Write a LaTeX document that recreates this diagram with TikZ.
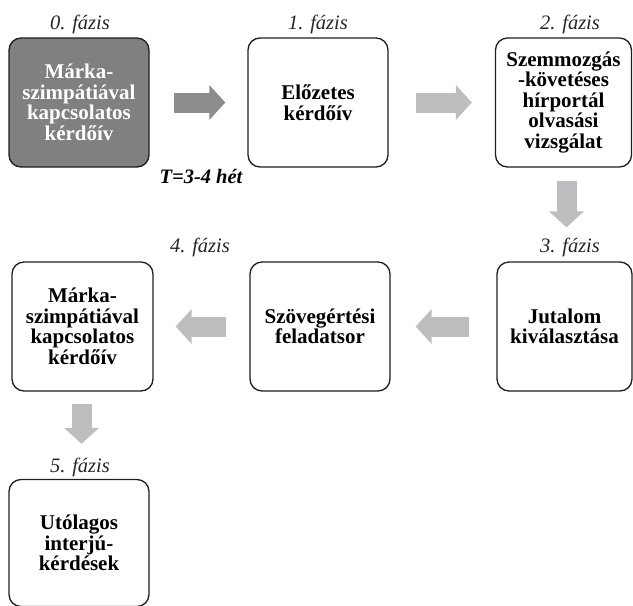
\documentclass[tikz,border=0pt]{standalone}
\usepackage{fontspec}
\setmainfont{Liberation Serif}
\usetikzlibrary{arrows.meta}
\definecolor{boxfill}{RGB}{128,128,128}
\definecolor{arrdark}{RGB}{140,140,140}
\definecolor{arrlight}{RGB}{189,189,191}
\definecolor{edge}{RGB}{30,30,30}
\tikzset{
  phase/.style={draw=edge, line width=1.3pt, rounded corners=12pt, minimum height=129pt,
    align=center, inner sep=0pt, font=\bfseries\fontsize{21}{20.5}\selectfont, text=black},
  phaselabel/.style={anchor=base, inner sep=0pt, font=\itshape\fontsize{20.5}{20}\selectfont, text=black!85},
  blockarrow/.style={line width=20pt, line cap=butt, draw=#1,
    -{Triangle[length=16pt,width=34pt,fill=#1,color=#1]}},
}
\begin{document}
\begin{tikzpicture}[x=1pt,y=1pt]
\useasboundingbox (0,0) rectangle (633,-606);
% boxes
\node[phase, minimum width=140pt, fill=boxfill, text=white] (b0) at (79,-102.5) {Márka-\\szimpátiával\\kapcsolatos\\kérdőív};
\node[phase, minimum width=140pt] (b1) at (318,-102.5) {Előzetes\\kérdőív};
\node[phase, minimum width=136pt] (b2) at (563.5,-102.5) {Szemmozgás\\-követéses\\hírportál\\olvasási\\vizsgálat};
\node[phase, minimum width=135pt] (b3) at (564.5,-326.5) {Jutalom\\kiválasztása};
\node[phase, minimum width=140pt] (b4) at (320,-326.5) {Szövegértési\\feladatsor};
\node[phase, minimum width=141pt] (b5) at (82.5,-326.5) {Márka-\\szimpátiával\\kapcsolatos\\kérdőív};
\node[phase, minimum width=140pt, minimum height=127pt] (b6) at (79,-543) {Utólagos\\interjú-\\kérdések};
% phase labels
\node[phaselabel] (l0) at (80,-29) {0. fázis};
\node[phaselabel] (l1) at (318,-29) {1. fázis};
\node[phaselabel] (l2) at (570,-29) {2. fázis};
\node[phaselabel] (l3) at (570,-252) {3. fázis};
\node[phaselabel] (l4) at (200,-252) {4. fázis};
\node[phaselabel] (l5) at (80,-472) {5. fázis};
\node[anchor=base, inner sep=0pt, font=\bfseries\itshape\fontsize{20.5}{20}\selectfont, text=black] (t) at (201,-183) {T=3-4 hét};
% arrows
\draw[blockarrow=arrdark, shorten <=24pt, shorten >=22pt] (b0.east) -- (b1.west);
\draw[blockarrow=arrlight, shorten <=27pt, shorten >=23pt] (b1.east) -- (b2.west);
\draw[blockarrow=arrlight, shorten <=13pt, shorten >=34pt] ([xshift=3pt]b2.south) -- ([xshift=2pt]b3.north);
\draw[blockarrow=arrlight, shorten <=27pt, shorten >=25pt] (b3.west) -- (b4.east);
\draw[blockarrow=arrlight, shorten <=23pt, shorten >=22pt] (b4.west) -- (b5.east);
\draw[blockarrow=arrlight, shorten <=12pt, shorten >=35pt] ([xshift=-1pt]b5.south) -- ([xshift=2.5pt]b6.north);
\end{tikzpicture}
\end{document}
